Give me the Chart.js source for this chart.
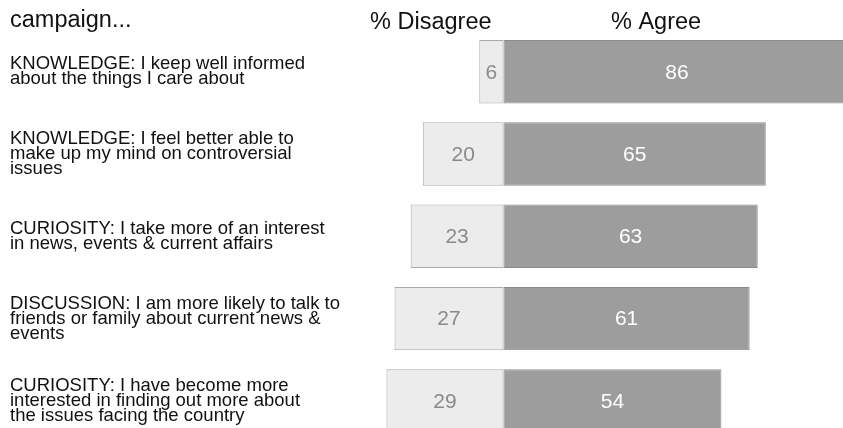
<!DOCTYPE html>
<html>
<head>
<meta charset="utf-8">
<script src="https://cdn.jsdelivr.net/npm/chart.js@4/dist/chart.umd.min.js"></script>
<style>
  html, body { margin: 0; padding: 0; overflow: hidden; background: #fff; }
  canvas { display: block; }
</style>
</head>
<body>
<canvas id="chart" width="880" height="442"></canvas>
<script>
// Survey statements (multi-line labels) and response shares
const statements = [
  ["KNOWLEDGE: I keep well informed", "about the things I care about"],
  ["KNOWLEDGE: I feel better able to", "make up my mind on controversial", "issues"],
  ["CURIOSITY: I take more of an interest", "in news, events & current affairs"],
  ["DISCUSSION: I am more likely to talk to", "friends or family about current news &", "events"],
  ["CURIOSITY: I have become more", "interested in finding out more about", "the issues facing the country"]
];
const disagreePct = [6, 20, 23, 27, 29];
const agreePct = [86, 65, 63, 61, 54];
const seriesNames = ["% Disagree", "% Agree"];
const titleText = "campaign...";

const FONT = '"Liberation Sans", Arial, Helvetica, sans-serif';

// Writes the value inside each bar and the column headers above the bars
const barText = {
  id: 'barText',
  afterDatasetsDraw(chart) {
    const ctx = chart.ctx;
    const xs = chart.scales.x;
    ctx.save();
    ctx.textAlign = 'center';
    ctx.textBaseline = 'middle';
    ctx.font = '21px ' + FONT;
    chart.data.datasets.forEach((ds, di) => {
      const meta = chart.getDatasetMeta(di);
      meta.data.forEach((bar, i) => {
        const v = Math.abs(ds.data[i]);
        ctx.fillStyle = di === 0 ? '#8a8a8a' : '#ffffff';
        ctx.fillText(String(v), (bar.x + bar.base) / 2, bar.y + 1);
      });
    });

    // column headers
    ctx.fillStyle = '#111';
    ctx.font = '23.5px ' + FONT;
    ctx.textBaseline = 'alphabetic';
    ctx.fillText(seriesNames[0], xs.getPixelForValue(-18), 29);
    ctx.fillText(seriesNames[1], xs.getPixelForValue(37.8), 29);

    // title fragment
    ctx.textAlign = 'left';
    ctx.fillText(titleText, 10, 27);
    ctx.restore();
  }
};

new Chart(document.getElementById('chart'), {
  type: 'bar',
  data: {
    labels: statements,
    datasets: [
      {
        label: seriesNames[0],
        data: disagreePct.map(v => -v),
        backgroundColor: '#ececec',
        borderColor: '#a9a9a9',
        borderWidth: 1,
        borderSkipped: false
      },
      {
        label: seriesNames[1],
        data: agreePct,
        backgroundColor: '#9d9d9d',
        borderColor: '#8c8c8c',
        borderWidth: 1,
        borderSkipped: false
      }
    ]
  },
  options: {
    indexAxis: 'y',
    responsive: false,
    animation: false,
    layout: { padding: { left: 10, top: 30.6, right: 0, bottom: 0 } },
    datasets: { bar: { categoryPercentage: 1, barPercentage: 0.77 } },
    plugins: {
      legend: { display: false },
      tooltip: { enabled: true }
    },
    scales: {
      x: {
        display: false,
        stacked: true,
        min: -30.6,
        max: 93.3
      },
      y: {
        stacked: true,
        grid: { display: false },
        border: { display: false },
        afterFit(scale) {
          scale.width = 370;
          scale.paddingTop = 0;
          scale.paddingBottom = 0;
        },
        ticks: {
          crossAlign: 'far',
          color: '#111',
          autoSkip: false,
          font: { family: FONT, size: 18.5, lineHeight: '15px' }
        }
      }
    }
  },
  plugins: [barText]
});
</script>
</body>
</html>
